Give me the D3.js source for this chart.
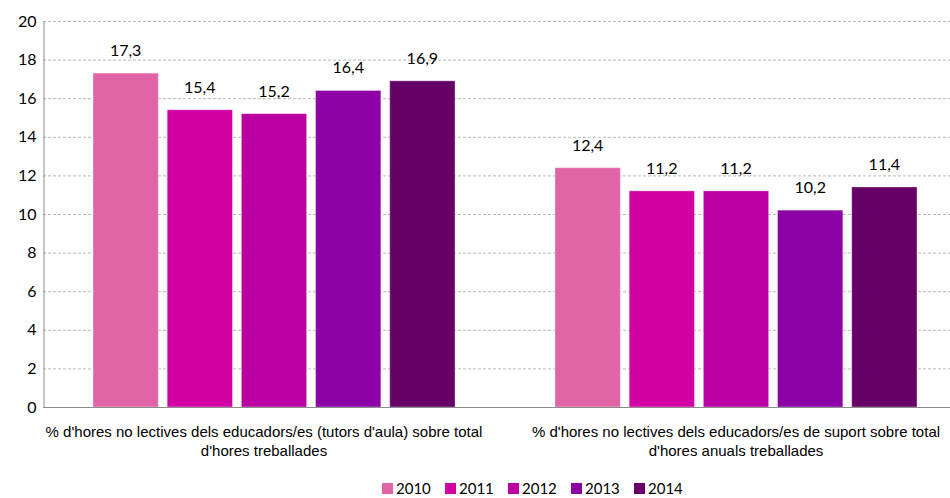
<!DOCTYPE html>
<html>
<head>
<meta charset="utf-8">
<script src="https://cdn.jsdelivr.net/npm/d3@7/dist/d3.min.js"></script>
<style>
  html, body { margin: 0; padding: 0; background: #fff; }
  svg { display: block; }
  text { font-family: Lato, "Open Sans", sans-serif; fill: #000; }
</style>
</head>
<body>
<svg id="chart" width="950" height="498"></svg>
<script>
// Indicator labels (two lines each)
const categories = [
  ["% d'hores no lectives dels educadors/es (tutors d'aula) sobre total", "d'hores treballades"],
  ["% d'hores no lectives dels educadors/es de suport sobre total", "d'hores anuals treballades"]
];
const years = ["2010", "2011", "2012", "2013", "2014"];
const values2010 = [17.3, 12.4];
const values2011 = [15.4, 11.2];
const values2012 = [15.2, 11.2];
const values2013 = [16.4, 10.2];
const values2014 = [16.9, 11.4];
const yTicks = [0, 2, 4, 6, 8, 10, 12, 14, 16, 18, 20];
const colors = ["#E064A6", "#D100A3", "#BA00A2", "#8C00A5", "#660066"];

const seriesValues = [values2010, values2011, values2012, values2013, values2014];
const rows = categories.map((c, i) => ({
  key: i,
  label: c,
  vals: years.map((yr, j) => ({ year: yr, v: seriesValues[j][i], color: colors[j] }))
}));

const svg = d3.select("#chart");
const plotLeft = 43, plotTop = 21, plotBottom = 407, plotRight = 967, clipRight = 950;

const y = d3.scaleLinear().domain([0, 20]).range([plotBottom, plotTop]);
const x0 = d3.scaleBand().domain(rows.map(r => r.key)).range([plotLeft, plotRight]).padding(0);
const x1 = d3.scaleBand().domain(years)
  .range([50, x0.bandwidth() - 50]).paddingInner(0.12);

const fmt = v => d3.format(".1f")(v).replace(".", ",");

// Gridlines
svg.append("g").selectAll("line")
  .data(yTicks.filter(t => t > 0))
  .join("line")
  .attr("x1", plotLeft).attr("x2", clipRight)
  .attr("y1", d => y(d) + 0.5).attr("y2", d => y(d) + 0.5)
  .attr("stroke", "#b8b8b8").attr("stroke-width", 1)
  .attr("stroke-dasharray", "3,2");

// Y axis
const yAxis = d3.axisLeft(y).tickValues(yTicks).tickSize(0).tickPadding(7).tickFormat(d3.format("d"));
const gy = svg.append("g").attr("transform", `translate(${plotLeft + 0.5},0)`).call(yAxis);
gy.select(".domain").attr("stroke", "#8c8c8c");
gy.selectAll("text").style("font-family", "Lato, sans-serif").style("font-size", "16px").attr("fill", "#000");

// Bars
const groups = svg.append("g").selectAll("g")
  .data(rows).join("g")
  .attr("transform", d => `translate(${x0(d.key)},0)`);

groups.selectAll("rect")
  .data(d => d.vals).join("rect")
  .attr("x", d => x1(d.year))
  .attr("y", d => y(d.v))
  .attr("width", x1.bandwidth())
  .attr("height", d => y(0) - y(d.v))
  .attr("fill", d => d.color)
  .attr("stroke", "rgba(255,255,255,0.35)")
  .attr("stroke-width", 1);

groups.selectAll("text.val")
  .data(d => d.vals).join("text")
  .attr("class", "val")
  .attr("x", d => x1(d.year) + x1.bandwidth() / 2)
  .attr("y", d => y(d.v) - 17)
  .attr("text-anchor", "middle")
  .style("font-size", "16px")
  .text(d => fmt(d.v));

// X axis baseline
svg.append("line")
  .attr("x1", plotLeft).attr("x2", clipRight)
  .attr("y1", plotBottom + 0.5).attr("y2", plotBottom + 0.5)
  .attr("stroke", "#8c8c8c");

// Category labels
const catLabels = svg.append("g").selectAll("text")
  .data(rows).join("text")
  .attr("text-anchor", "middle")
  .style("font-family", "'Liberation Sans Narrow', 'Arial Narrow', sans-serif")
  .style("font-size", "15px")
  .attr("transform", d => `translate(${x0(d.key) + x0.bandwidth() / 2 - (d.key === 0 ? 10 : 0)},0)`);
catLabels.selectAll("tspan")
  .data(d => d.label).join("tspan")
  .attr("x", 0)
  .attr("y", (d, i) => 437 + i * 19)
  .text(d => d);

// Legend
const legend = svg.append("g").attr("transform", "translate(382,0)");
const item = legend.selectAll("g").data(years).join("g")
  .attr("transform", (d, i) => `translate(${i * 63},0)`);
item.append("rect").attr("x", 0).attr("y", 483).attr("width", 11).attr("height", 11)
  .attr("fill", (d, i) => colors[i]);
item.append("text").attr("x", 14).attr("y", 494)
  .style("font-size", "15px").text(d => d);
</script>
</body>
</html>
